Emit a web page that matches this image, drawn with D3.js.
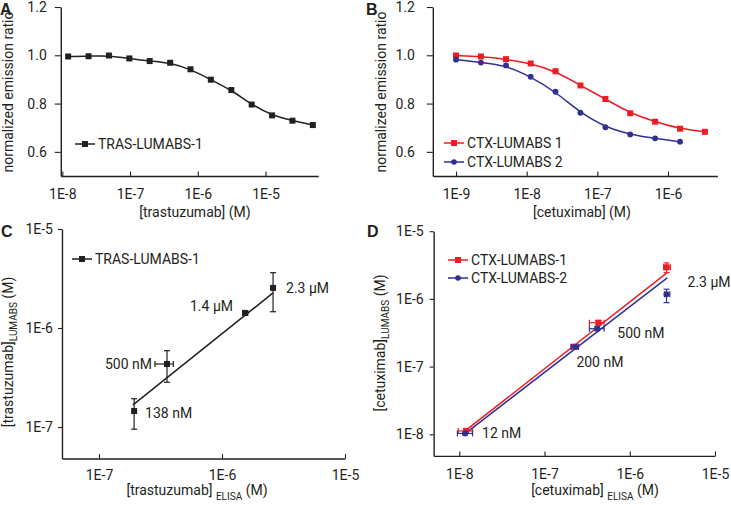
<!DOCTYPE html>
<html>
<head>
  <meta charset="utf-8"/>
  <title>LUMABS</title>
  <style>
    body { margin: 0; background: #fff; }
    svg text { font-family: Roboto, "Open Sans", sans-serif; font-size: 14px; fill: #231f20; }
    .letter { font-family: "Liberation Sans", Arial, sans-serif; font-weight: bold; font-size: 16px; }
  </style>
</head>
<body>
<svg id="fig" width="731" height="505"></svg>

<script src="https://cdn.jsdelivr.net/npm/d3@7"></script>
<script>

// panel A: titration of TRAS-LUMABS-1
var concA  = [1.22e-8, 2.44e-8, 4.88e-8, 9.77e-8, 1.95e-7, 3.91e-7, 7.81e-7, 1.56e-6, 3.13e-6, 6.25e-6, 1.25e-5, 2.5e-5, 5e-5];
var ratioA = [0.995, 0.996, 0.999, 0.987, 0.976, 0.969, 0.942, 0.899, 0.856, 0.796, 0.751, 0.729, 0.711];

// panel B: CTX-LUMABS 1 and 2
var concB   = [1e-9, 2.25e-9, 5.1e-9, 1.14e-8, 2.56e-8, 5.77e-8, 1.3e-7, 2.92e-7, 6.57e-7, 1.48e-6, 3.33e-6];
var ratioB1 = [0.999, 0.995, 0.984, 0.966, 0.934, 0.875, 0.819, 0.760, 0.725, 0.696, 0.683];
var ratioB2 = [0.982, 0.970, 0.958, 0.911, 0.849, 0.762, 0.702, 0.672, 0.656, 0.642];

// panel C: LUMABS vs ELISA, trastuzumab
var elisaC    = [1.93e-7, 3.57e-7, 1.54e-6, 2.6e-6];
var elisaLoC  = [1.93e-7, 2.85e-7, 1.48e-6, 2.6e-6];
var elisaHiC  = [1.93e-7, 4.02e-7, 1.62e-6, 2.6e-6];
var lumabsC   = [1.45e-7, 4.33e-7, 1.42e-6, 2.54e-6];
var lumabsLoC = [9.5e-8, 2.83e-7, 1.39e-6, 1.46e-6];
var lumabsHiC = [1.93e-7, 5.9e-7, 1.45e-6, 3.62e-6];
var labelsC   = ["138 nM", "500 nM", "1.4 μM", "2.3 μM"];
var fitXC = [1.89e-7, 2.6e-6];
var fitYC = [1.67e-7, 2.26e-6];

// panel D: LUMABS vs ELISA, cetuximab
var elisaD1    = [1.2e-8, 2.24e-7, 4.28e-7, 2.7e-6];
var elisaLoD1  = [9.7e-9, 2.05e-7, 3.36e-7, 2.5e-6];
var elisaHiD1  = [1.43e-8, 2.5e-7, 5.0e-7, 3.0e-6];
var lumabsD1   = [1.12e-8, 1.97e-7, 4.45e-7, 2.93e-6];
var lumabsLoD1 = [1.05e-8, 1.85e-7, 4.1e-7, 2.44e-6];
var lumabsHiD1 = [1.2e-8, 2.1e-7, 4.8e-7, 3.4e-6];
var elisaD2    = [1.17e-8, 2.3e-7, 4.15e-7, 2.7e-6];
var elisaLoD2  = [9.5e-9, 2.05e-7, 3.36e-7, 2.55e-6];
var elisaHiD2  = [1.43e-8, 2.5e-7, 5.0e-7, 2.95e-6];
var lumabsD2   = [1.03e-8, 1.95e-7, 3.63e-7, 1.17e-6];
var lumabsLoD2 = [9.8e-9, 1.85e-7, 3.4e-7, 8.8e-7];
var lumabsHiD2 = [1.08e-8, 2.05e-7, 3.9e-7, 1.39e-6];
var labelsD    = ["12 nM", "200 nM", "500 nM", "2.3 µM"];
var fitXD1 = [1.2e-8, 2.7e-6],  fitYD1 = [1.15e-8, 2.4e-6];
var fitXD2 = [1.2e-8, 2.75e-6], fitYD2 = [1.05e-8, 2.05e-6];


var svg = d3.select("#fig");
var black = "#231f20", red = "#ed1c24", blue = "#2e3192";

// set a scale from two anchor values, then stretch it to the axis extent
function extent(scale, lo, hi){
  var r = [scale(lo), scale(hi)];
  return scale.domain([lo, hi]).range(r);
}

function logMajor(lo, hi){
  var out = [];
  for (var e = -12; e <= 0; e++){
    var v = Math.pow(10, e);
    if (v >= lo * 0.999 && v <= hi * 1.001) out.push(v);
  }
  return out;
}
function logMinor(lo, hi){
  var out = [];
  for (var e = -12; e <= 0; e++){
    for (var m = 2; m < 10; m++){
      var v = m * Math.pow(10, e);
      if (v >= lo * 0.999 && v <= hi * 1.001) out.push(v);
    }
  }
  return out;
}
function fmtE(v){ return "1E" + Math.round(Math.log10(v)); }

function axes(x, y, o){
  var x0 = x.range()[0], y0 = y.range()[0];
  var gx = svg.append("g").attr("transform", "translate(0," + y0 + ")");
  gx.call(d3.axisBottom(x).tickValues(o.xMinor).tickFormat("").tickSizeInner(-2.5).tickSizeOuter(0));
  gx.call(d3.axisBottom(x).tickValues(o.xMajor).tickFormat(o.xFmt).tickSizeInner(-4.5).tickSizeOuter(0).tickPadding(o.xPad));
  var gy = svg.append("g").attr("transform", "translate(" + x0 + ",0)");
  gy.call(d3.axisLeft(y).tickValues(o.yMinor).tickFormat("").tickSizeInner(3).tickSizeOuter(0));
  gy.call(d3.axisLeft(y).tickValues(o.yMajor).tickFormat(o.yFmt).tickSizeInner(o.yTick).tickSizeOuter(0).tickPadding(o.yPad));
  [gx, gy].forEach(function(g){
    g.selectAll("path.domain").attr("stroke", black).attr("stroke-width", 1.4);
    g.selectAll("line").attr("stroke", black).attr("stroke-width", 1.1);
    g.selectAll("text").attr("font-family", null).attr("font-size", null);
  });
}

function square(g, cx, cy, s, col){
  g.append("rect").attr("x", cx - s / 2).attr("y", cy - s / 2)
    .attr("width", s).attr("height", s).attr("fill", col);
}
function dot(g, cx, cy, r, col){
  g.append("circle").attr("cx", cx).attr("cy", cy).attr("r", r).attr("fill", col);
}

function legendItem(x, y, col, text, marker){
  var g = svg.append("g");
  g.append("line").attr("x1", x).attr("x2", x + 20).attr("y1", y).attr("y2", y)
    .attr("stroke", col).attr("stroke-width", 1.5);
  if (marker == "circle") dot(g, x + 10, y, 2.8, col);
  else square(g, x + 10, y, 6, col);
  g.append("text").attr("x", x + 23).attr("y", y + 5).text(text);
}

function yTitle(x, y, parts){
  var t = svg.append("text").attr("transform", "translate(" + x + "," + y + ") rotate(-90)")
    .attr("text-anchor", "middle");
  parts.forEach(function(p){
    t.append("tspan").attr("dy", p[1]).attr("font-size", p[2]).text(p[0]);
  });
}
function xTitle(x, y, parts){
  var t = svg.append("text").attr("x", x).attr("y", y).attr("text-anchor", "middle");
  parts.forEach(function(p){
    t.append("tspan").attr("dy", p[1]).attr("font-size", p[2]).text(p[0]);
  });
}

function errBars(g, x, y, ex, exLo, exHi, ly, lyLo, lyHi, col){
  for (var i = 0; i < ex.length; i++){
    var cx = x(ex[i]), cy = y(ly[i]);
    if (lyLo[i] != lyHi[i]){
      g.append("line").attr("x1", cx).attr("x2", cx).attr("y1", y(lyLo[i])).attr("y2", y(lyHi[i]))
        .attr("stroke", col).attr("stroke-width", 1.2);
      [lyLo[i], lyHi[i]].forEach(function(v){
        g.append("line").attr("x1", cx - 3).attr("x2", cx + 3).attr("y1", y(v)).attr("y2", y(v))
          .attr("stroke", col).attr("stroke-width", 1.2);
      });
    }
    if (exLo[i] != exHi[i]){
      g.append("line").attr("y1", cy).attr("y2", cy).attr("x1", x(exLo[i])).attr("x2", x(exHi[i]))
        .attr("stroke", col).attr("stroke-width", 1.2);
      [exLo[i], exHi[i]].forEach(function(v){
        g.append("line").attr("y1", cy - 3).attr("y2", cy + 3).attr("x1", x(v)).attr("x2", x(v))
          .attr("stroke", col).attr("stroke-width", 1.2);
      });
    }
  }
}

function fitLine(g, x, y, fx, fy, col){
  g.append("line").attr("x1", x(fx[0])).attr("y1", y(fy[0])).attr("x2", x(fx[1])).attr("y2", y(fy[1]))
    .attr("stroke", col).attr("stroke-width", 1.5);
}

// smooth dose-response curve through the measured points
function curve(g, x, y, xs, ys, col){
  var pts = ys.map(function(v, i){ return [x(xs[i]), y(v)]; });
  g.append("path").attr("d", d3.line().curve(d3.curveBasis)(pts))
    .attr("fill", "none").attr("stroke", col).attr("stroke-width", 1.5);
  return pts;
}

// ---------- panel A ----------
var xA = extent(d3.scaleLog().domain([1e-8, 1e-5]).range([62.3, 265.5]), 0.95e-8, 6e-5);
var yA = d3.scaleLinear().domain([0.5, 1.2]).range([176, 7]);
axes(xA, yA, {
  xMajor: logMajor(0.95e-8, 6e-5), xMinor: logMinor(0.95e-8, 6e-5), xFmt: fmtE, xPad: 13,
  yMajor: [0.6, 0.8, 1.0, 1.2], yMinor: [0.7, 0.9, 1.1], yFmt: d3.format(".1f"), yTick: 6, yPad: 8
});
var gA = svg.append("g");
curve(gA, xA, yA, concA, ratioA, black).forEach(function(p){ square(gA, p[0], p[1], 6, black); });
legendItem(75, 144, black, "TRAS-LUMABS-1");
yTitle(13, 92, [["normalized emission ratio", 0, null]]);
xTitle(195, 217, [["[trastuzumab] (M)", 0, null]]);
svg.append("text").attr("class", "letter").attr("x", 0).attr("y", 15).text("A");

// ---------- panel B ----------
var xB = extent(d3.scaleLog().domain([1e-9, 1e-6]).range([456, 668]), 4.7e-10, 5e-6);
var yB = d3.scaleLinear().domain([0.5, 1.2]).range([176, 7]);
axes(xB, yB, {
  xMajor: logMajor(4.7e-10, 5e-6), xMinor: logMinor(4.7e-10, 5e-6), xFmt: fmtE, xPad: 13,
  yMajor: [0.6, 0.8, 1.0, 1.2], yMinor: [0.7, 0.9, 1.1], yFmt: d3.format(".1f"), yTick: 6, yPad: 12
});
var gB = svg.append("g");
curve(gB, xB, yB, concB, ratioB1, red).forEach(function(p){ square(gB, p[0], p[1], 6, red); });
curve(gB, xB, yB, concB, ratioB2, blue).forEach(function(p){ dot(gB, p[0], p[1], 2.9, blue); });
legendItem(444, 143, red, "CTX-LUMABS 1");
legendItem(444, 162, blue, "CTX-LUMABS 2", "circle");
yTitle(386, 92, [["normalized emission ratio", 0, null]]);
xTitle(582, 217, [["[cetuximab] (M)", 0, null]]);
svg.append("text").attr("class", "letter").attr("x", 366).attr("y", 15).text("B");

// ---------- panel C ----------
var xC = extent(d3.scaleLog().domain([1e-7, 1e-5]).range([99, 345]), 5e-8, 1e-5);
var yC = extent(d3.scaleLog().domain([1e-7, 1e-5]).range([427, 229]), 4.8e-8, 1e-5);
axes(xC, yC, {
  xMajor: logMajor(5e-8, 1e-5), xMinor: logMinor(5e-8, 1e-5), xFmt: fmtE, xPad: 12,
  yMajor: logMajor(4.8e-8, 1e-5), yMinor: logMinor(4.8e-8, 1e-5), yFmt: fmtE, yTick: 4, yPad: 5
});
var gC = svg.append("g");
fitLine(gC, xC, yC, fitXC, fitYC, black);
errBars(gC, xC, yC, elisaC, elisaLoC, elisaHiC, lumabsC, lumabsLoC, lumabsHiC, black);
elisaC.forEach(function(v, i){ square(gC, xC(v), yC(lumabsC[i]), 6, black); });
var offC = [[11, 7, "start"], [-15, 5, "end"], [-12, -2, "end"], [13, 5, "start"]];
labelsC.forEach(function(t, i){
  gC.append("text").attr("x", xC(elisaC[i]) + offC[i][0]).attr("y", yC(lumabsC[i]) + offC[i][1])
    .attr("text-anchor", offC[i][2]).text(t);
});
legendItem(72, 259, black, "TRAS-LUMABS-1");
yTitle(13, 352, [["[trastuzumab]", 0, null], ["LUMABS", 4, "10px"], [" (M)", -4, null]]);
xTitle(197, 495, [["[trastuzumab] ", 0, null], ["ELISA", 5, "10px"], ["  (M)", -5, null]]);
svg.append("text").attr("class", "letter").attr("x", 1).attr("y", 237).text("C");

// ---------- panel D ----------
var xD = extent(d3.scaleLog().domain([1e-8, 1e-5]).range([459.3, 715]), 5e-9, 1e-5);
var yD = extent(d3.scaleLog().domain([1e-8, 1e-5]).range([434.3, 231.2]), 4.8e-9, 1e-5);
axes(xD, yD, {
  xMajor: logMajor(5e-9, 1e-5), xMinor: logMinor(5e-9, 1e-5), xFmt: fmtE, xPad: 13,
  yMajor: logMajor(4.8e-9, 1e-5), yMinor: logMinor(4.8e-9, 1e-5), yFmt: fmtE, yTick: 4, yPad: 6
});
var gD = svg.append("g");
fitLine(gD, xD, yD, fitXD1, fitYD1, red);
fitLine(gD, xD, yD, fitXD2, fitYD2, blue);
errBars(gD, xD, yD, elisaD1, elisaLoD1, elisaHiD1, lumabsD1, lumabsLoD1, lumabsHiD1, red);
elisaD1.forEach(function(v, i){ square(gD, xD(v), yD(lumabsD1[i]), 6, red); });
errBars(gD, xD, yD, elisaD2, elisaLoD2, elisaHiD2, lumabsD2, lumabsLoD2, lumabsHiD2, blue);
elisaD2.forEach(function(v, i){ dot(gD, xD(v), yD(lumabsD2[i]), 3, blue); });
var offD = [[16, 7], [2, 20], [19, 15], [21, 20]];
labelsD.forEach(function(t, i){
  gD.append("text").attr("x", xD(elisaD1[i]) + offD[i][0]).attr("y", yD(lumabsD1[i]) + offD[i][1]).text(t);
});
legendItem(448, 260, red, "CTX-LUMABS-1");
legendItem(448, 278, blue, "CTX-LUMABS-2", "circle");
yTitle(385, 343, [["[cetuximab]", 0, null], ["LUMABS", 4, "10px"], [" (M)", -4, null]]);
xTitle(595, 495, [["[cetuximab] ", 0, null], ["ELISA", 5, "10px"], [" (M)", -5, null]]);
svg.append("text").attr("class", "letter").attr("x", 367).attr("y", 237).text("D");

</script>
</body>
</html>
